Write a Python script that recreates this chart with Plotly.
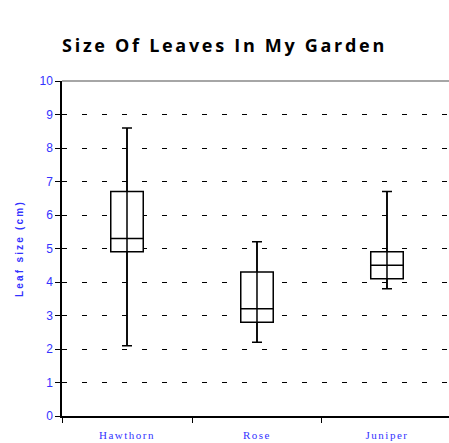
import plotly.graph_objects as go

categories = ["Hawthorn", "Rose", "Juniper"]
lower = [2.1, 2.2, 3.8]
q1 = [4.9, 2.8, 4.1]
median = [5.3, 3.2, 4.5]
q3 = [6.7, 4.3, 4.9]
upper = [8.6, 5.2, 6.7]
y_ticks = list(range(0, 11))

BLUE = "#3333ff"

fig = go.Figure()
fig.add_trace(go.Box(
    x=categories, q1=q1, median=median, q3=q3,
    lowerfence=lower, upperfence=upper,
    width=0.25, fillcolor="white",
    line=dict(color="black", width=1.5),
    whiskerwidth=0, showlegend=False, hoverinfo="skip",
))
fig.add_trace(go.Scatter(
    x=categories, y=median, mode="markers",
    marker=dict(size=1, color="rgba(0,0,0,0)"),
    error_y=dict(type="data", symmetric=False,
                 array=[u - m for u, m in zip(upper, median)],
                 arrayminus=[m - l for m, l in zip(median, lower)],
                 width=5, thickness=1.5, color="black"),
    showlegend=False, hoverinfo="skip",
))

fig.update_layout(
    width=449, height=443,
    margin=dict(l=62, r=0, t=81, b=27),
    paper_bgcolor="white", plot_bgcolor="white",
    title=dict(text="<b>Size Of Leaves In My Garden</b>", x=0.5, xanchor="center",
               y=1 - 46 / 443, yanchor="middle",
               font=dict(family="Open Sans", size=18, color="black")),
    xaxis=dict(
        type="category", range=[-0.5, 2.477], automargin=False,
        tickson="boundaries", ticks="outside", ticklen=5, tickcolor="black", tickwidth=1,
        showline=True, linecolor="black", linewidth=1.5,
        showgrid=False, zeroline=False,
        tickfont=dict(family="Liberation Serif", size=11, color=BLUE),
        ticklabelstandoff=8,
    ),
    yaxis=dict(
        range=[0, 10], tickvals=y_ticks, automargin=False,
        ticks="outside", ticklen=5, tickcolor="black", tickwidth=1,
        showline=True, linecolor="black", linewidth=1.5,
        showgrid=True, gridcolor="black", gridwidth=1, griddash="5px,15px",
        zeroline=False,
        tickfont=dict(family="Liberation Sans", size=12, color=BLUE),
        title=dict(text="<b>Leaf size (cm)</b>", standoff=14,
                   font=dict(family="Liberation Sans", size=10, color=BLUE)),
    ),
    shapes=[dict(type="line", xref="paper", yref="paper", x0=0, x1=1, y0=1, y1=1,
                 line=dict(color="#888888", width=1.5))],
)

post = ("var s=document.createElement('style');"
        "s.innerHTML='html,body{margin:0;padding:0;overflow:hidden}"
        ".gtitle{letter-spacing:2.7px}.ytitle{letter-spacing:2.2px}.xtick text{letter-spacing:1.5px}';"
        "document.head.appendChild(s);")
fig.write_html("out.html", post_script=post, config={"displayModeBar": False})
